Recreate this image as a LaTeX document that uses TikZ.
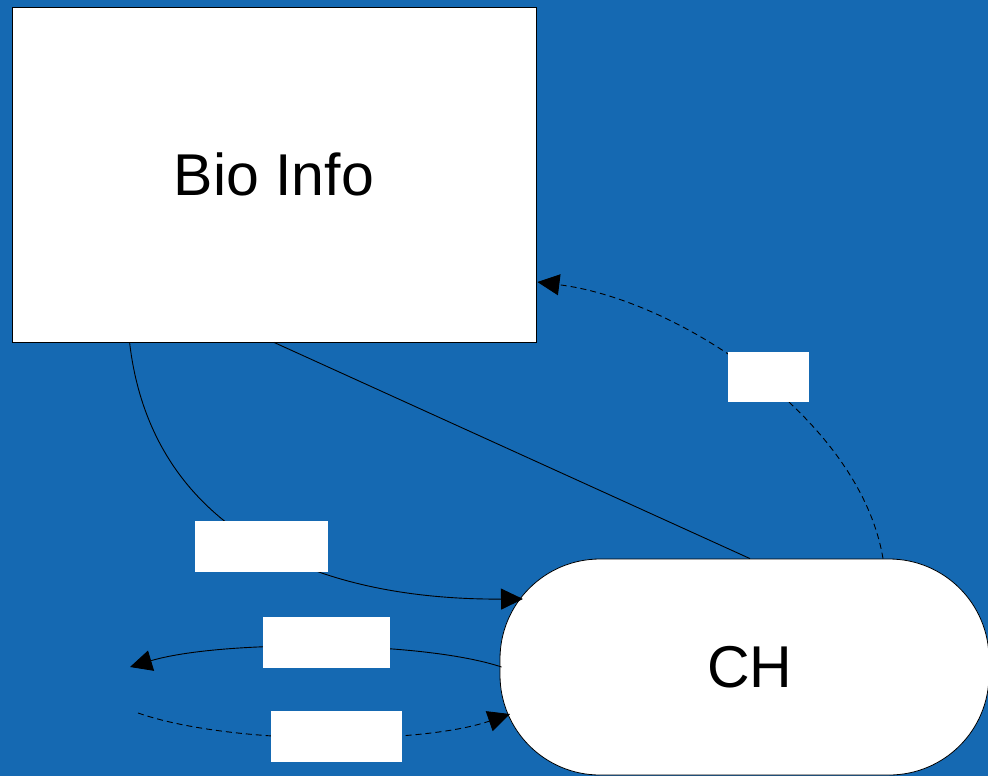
\documentclass[tikz,border=0pt]{standalone}
\usepackage{fontspec}
\setmainfont{Liberation Sans}
\usetikzlibrary{arrows.meta,calc}
\definecolor{bgblue}{RGB}{21,105,178}
\begin{document}
\begin{tikzpicture}[x=1pt,y=-1pt,
  box/.style={draw=black,line width=0.8pt,fill=white,inner sep=0pt},
  lbl/.style={fill=white,inner sep=0pt,minimum height=51pt},
  conn/.style={draw=black,line width=0.9pt},
  dsh/.style={conn,dash pattern=on 6pt off 4pt},
  tip/.style={-{Triangle[length=22pt,width=21pt]}},
  big/.style={font=\fontsize{59}{70}\selectfont}]
\fill[bgblue] (0,0) rectangle (988,776);
\useasboundingbox (0,0) rectangle (988,776);
\node[box,big,minimum width=524pt,minimum height=335pt] (bio) at (274,174.5) {Bio Info};
\node[box,big,rounded corners=100pt,minimum width=489pt,minimum height=216pt] (ch) at (744.5,667) {\hspace*{11pt}CH};
\coordinate (lt) at (130,667);
\coordinate (ls) at (138,713);
\draw[conn,tip] ($(bio.south west)+(118,0)$) .. controls (150,520) and (300,600) .. ($(ch.center)+(-221.5,-68)$);
\draw[conn] (bio.south) -- ($(ch.north)+(5.5,0)$);
\draw[dsh,tip] ($(ch.north)+(138.5,0)$) .. controls (860,420) and (680,300) .. ($(bio.east)+(1,107.5)$);
\draw[conn,tip] ($(ch.west)+(2,0)$) .. controls (420,640) and (220,640) .. (lt);
\draw[dsh,tip] (ls) .. controls (230,745) and (420,745) .. ($(ch.center)+(-234.5,47)$);
\node[lbl,minimum width=133pt] (l1) at (261.5,546.5) {};
\node[lbl,minimum width=127pt] (l2) at (326.5,642.5) {};
\node[lbl,minimum width=131pt] (l3) at (336.5,736.5) {};
\node[lbl,minimum width=81pt,minimum height=50pt] (l4) at (768.5,377) {};
\end{tikzpicture}
\end{document}
